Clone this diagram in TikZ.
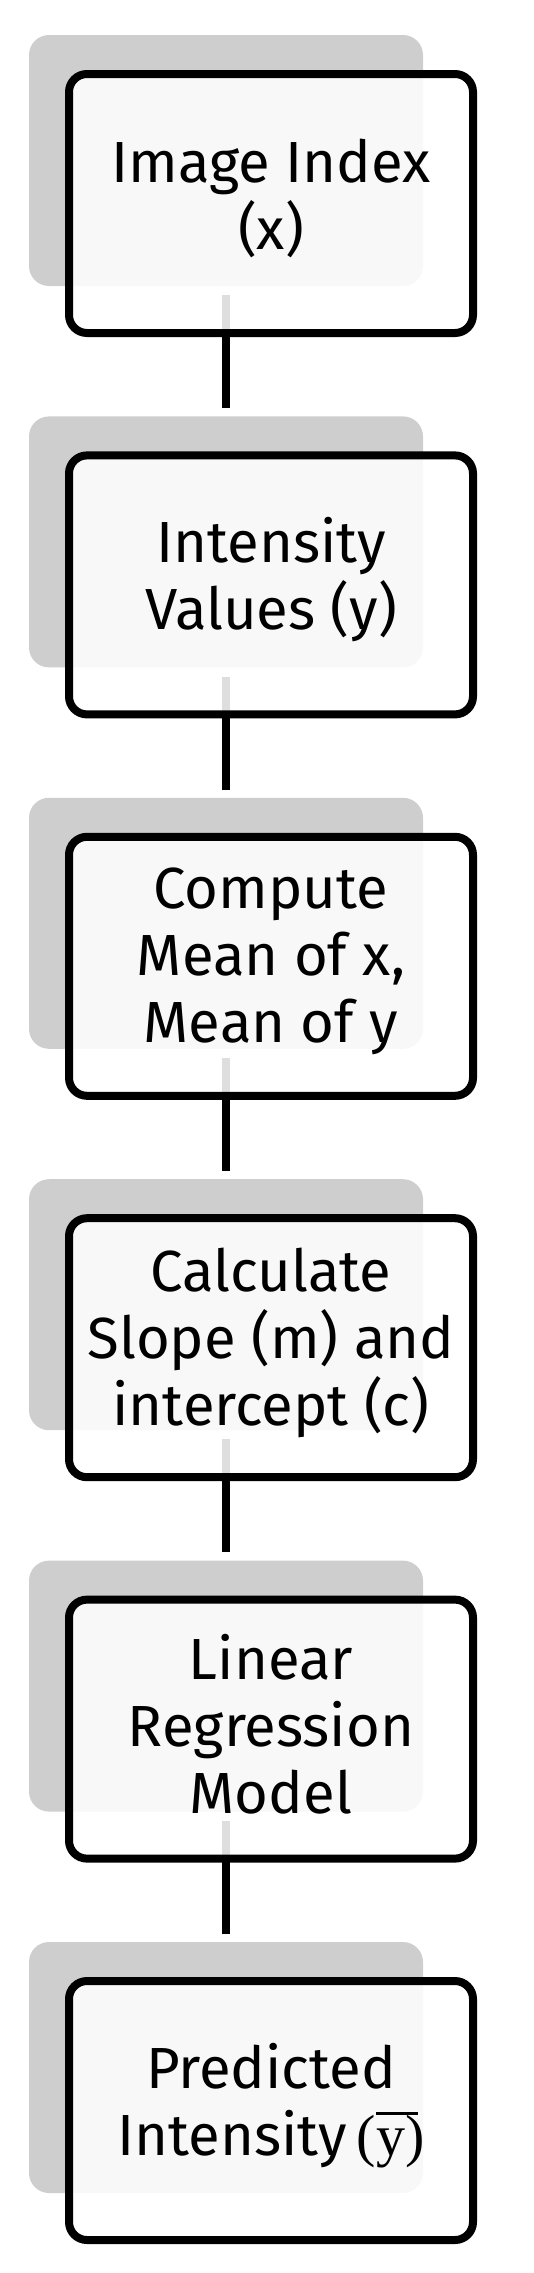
\documentclass[tikz,border=0pt]{standalone}
\usepackage{fontspec}
\setmainfont{Fira Sans}
\newfontfamily\serifface{Liberation Serif}
\definecolor{shadowgray}{RGB}{206,206,206}
\begin{document}
\begin{tikzpicture}[x=1pt,y=-1pt,
  shadowbox/.style={fill=shadowgray, draw=none, rounded corners=20pt, minimum width=394pt, minimum height=251pt, inner sep=0pt},
  stepbox/.style={draw=black, line width=8pt, fill=white, fill opacity=0.87, draw opacity=1, rounded corners=18pt, minimum width=404pt, minimum height=259pt, inner sep=0pt},
  steptext/.style={font=\fontsize{58}{67}\selectfont, align=center, inner sep=0pt},
  link/.style={line width=8pt, draw=black}]
\useasboundingbox (0,0) rectangle (534,2273);
% shadows
\node[shadowbox] (s1) at (226,160.5) {};
\node[shadowbox] (s2) at (226,541.9) {};
\node[shadowbox] (s3) at (226,923.3) {};
\node[shadowbox] (s4) at (226,1304.7) {};
\node[shadowbox] (s5) at (226,1686.1) {};
\node[shadowbox] (s6) at (226,2067.5) {};
% connectors
\draw[link] ([yshift=-9pt]s1.south) -- ([yshift=8pt]s2.north);
\draw[link] ([yshift=-9pt]s2.south) -- ([yshift=8pt]s3.north);
\draw[link] ([yshift=-9pt]s3.south) -- ([yshift=8pt]s4.north);
\draw[link] ([yshift=-9pt]s4.south) -- ([yshift=8pt]s5.north);
\draw[link] ([yshift=-9pt]s5.south) -- ([yshift=8pt]s6.north);
% boxes
\node[stepbox] (b1) at (271,203.5) {};
\node[stepbox] (b2) at (271,584.9) {};
\node[stepbox] (b3) at (271,966.3) {};
\node[stepbox] (b4) at (271,1347.7) {};
\node[stepbox] (b5) at (271,1729.1) {};
\node[stepbox] (b6) at (271,2110.5) {};
% texts
\node[steptext] (t1) at ([yshift=5pt]b1.center) {Image Index\\(x)};
\node[steptext] (t2) at ([yshift=5pt]b2.center) {Intensity\\Values (y)};
\node[steptext] (t3) at ([yshift=5pt]b3.center) {Compute\\Mean of x,\\Mean of y};
\node[steptext] (t4) at ([yshift=5pt]b4.center) {Calculate\\Slope (m) and\\intercept (c)};
\node[steptext] (t5) at ([yshift=5pt]b5.center) {Linear\\Regression\\Model};
\node[steptext] (t6) at ([yshift=5pt]b6.center) {Predicted\\Intensity\,{\serifface(\rlap{\rule[0.7em]{0.72em}{0.045em}}y)}};
\end{tikzpicture}
\end{document}
